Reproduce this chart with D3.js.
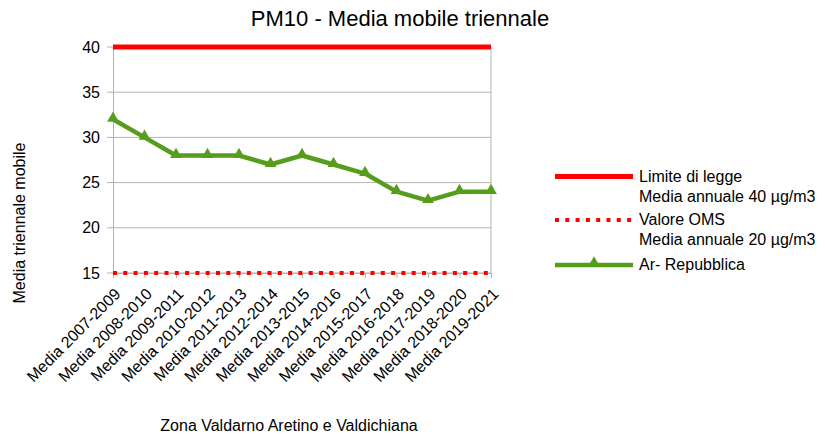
<!DOCTYPE html>
<html>
<head>
<meta charset="utf-8">
<script src="https://cdn.jsdelivr.net/npm/d3@7"></script>
<style>
  body { margin: 0; background: #fff; }
  text { font-family: "Liberation Sans", Arial, sans-serif; fill: #000; }
</style>
</head>
<body>
<div id="chart"></div>
<script>
const CATEGORIES = ['Media 2007-2009', 'Media 2008-2010', 'Media 2009-2011', 'Media 2010-2012',
  'Media 2011-2013', 'Media 2012-2014', 'Media 2013-2015', 'Media 2014-2016', 'Media 2015-2017',
  'Media 2016-2018', 'Media 2017-2019', 'Media 2018-2020', 'Media 2019-2021'];
const REPUBBLICA = [32, 30, 28, 28, 28, 27, 28, 27, 26, 24, 23, 24, 24];
const LIMITE = 40;
const OMS = 15;
const Y_TICKS = [15, 20, 25, 30, 35, 40];

// set the dimensions and margins of the graph
var margin = {top: 47, right: 334, bottom: 163, left: 113},
    width  = 825 - margin.left - margin.right,
    height = 436 - margin.top - margin.bottom;

var svgRoot = d3.select('#chart')
  .append('svg')
  .attr('width', 825)
  .attr('height', 436);

var svg = svgRoot.append('g')
  .attr('transform', 'translate(' + margin.left + ',' + margin.top + ')');

var x = d3.scalePoint().domain(CATEGORIES).range([0, width]).padding(0);
var y = d3.scaleLinear().domain([15, 40]).range([height, 0]);

// gridlines
svg.append('g')
  .selectAll('line')
  .data(Y_TICKS)
  .enter()
  .append('line')
  .attr('x1', -6).attr('x2', width)
  .attr('y1', d => y(d)).attr('y2', d => y(d))
  .attr('stroke', '#b3b3b3').attr('stroke-width', 1);

// y axis
var yAxis = svg.append('g')
  .call(d3.axisLeft(y).tickValues(Y_TICKS).tickSize(0).tickPadding(13));
yAxis.select('.domain').attr('stroke', '#b3b3b3');
yAxis.selectAll('text').style('font-size', '16px');

// x axis
var xAxis = svg.append('g')
  .attr('transform', 'translate(0,' + height + ')')
  .call(d3.axisBottom(x).tickSize(5).tickSizeOuter(0));
xAxis.select('.domain').attr('stroke', '#b3b3b3');
xAxis.selectAll('line').attr('stroke', '#b3b3b3');
xAxis.selectAll('text')
  .style('font-size', '16px')
  .attr('text-anchor', 'end')
  .attr('dy', null)
  .attr('y', 0)
  .attr('transform', 'translate(8,22) rotate(-45)');

// right border of plot
svg.append('line')
  .attr('x1', width).attr('x2', width).attr('y1', 0).attr('y2', height)
  .attr('stroke', '#b3b3b3');

// threshold lines
svg.append('line')
  .attr('x1', 0).attr('x2', width)
  .attr('y1', y(LIMITE)).attr('y2', y(LIMITE))
  .attr('stroke', '#ff0000').attr('stroke-width', 5);

svg.append('line')
  .attr('x1', 0).attr('x2', width)
  .attr('y1', y(OMS)).attr('y2', y(OMS))
  .attr('stroke', '#ff0000').attr('stroke-width', 4)
  .attr('stroke-dasharray', '4,6.3');

// green series
var line = d3.line()
  .x((d, i) => x(CATEGORIES[i]))
  .y(d => y(d));

svg.append('path')
  .datum(REPUBBLICA)
  .attr('d', line)
  .attr('fill', 'none')
  .attr('stroke', '#579d1c')
  .attr('stroke-width', 4.5)
  .attr('stroke-linejoin', 'round');

var tri = d3.symbol().type(d3.symbolTriangle).size(60);
svg.selectAll('.marker')
  .data(REPUBBLICA)
  .enter()
  .append('path')
  .attr('class', 'marker')
  .attr('d', tri)
  .attr('transform', (d, i) => 'translate(' + x(CATEGORIES[i]) + ',' + (y(d) - 1) + ')')
  .attr('fill', '#579d1c');

// title
svgRoot.append('text')
  .attr('x', 400).attr('y', 26)
  .attr('text-anchor', 'middle')
  .style('font-size', '22px')
  .text('PM10 - Media mobile triennale');

// axis titles
svgRoot.append('text')
  .attr('transform', 'translate(25,223) rotate(-90)')
  .attr('text-anchor', 'middle')
  .style('font-size', '16px')
  .text('Media triennale mobile');

svgRoot.append('text')
  .attr('x', 289).attr('y', 431)
  .attr('text-anchor', 'middle')
  .style('font-size', '16px')
  .text('Zona Valdarno Aretino e Valdichiana');

// legend
var legend = svgRoot.append('g').attr('transform', 'translate(555,0)');

legend.append('line')
  .attr('x1', 0).attr('x2', 78).attr('y1', 176.5).attr('y2', 176.5)
  .attr('stroke', '#ff0000').attr('stroke-width', 5);
legend.append('text').attr('x', 84).attr('y', 182).style('font-size', '16px').text('Limite di legge');
legend.append('text').attr('x', 84).attr('y', 202).style('font-size', '16px').text('Media annuale 40 µg/m3');

legend.append('line')
  .attr('x1', 0).attr('x2', 78).attr('y1', 220).attr('y2', 220)
  .attr('stroke', '#ff0000').attr('stroke-width', 4)
  .attr('stroke-dasharray', '4,6.3');
legend.append('text').attr('x', 84).attr('y', 225).style('font-size', '16px').text('Valore OMS');
legend.append('text').attr('x', 84).attr('y', 245).style('font-size', '16px').text('Media annuale 20 µg/m3');

legend.append('line')
  .attr('x1', 0).attr('x2', 78).attr('y1', 265).attr('y2', 265)
  .attr('stroke', '#579d1c').attr('stroke-width', 4.5);
legend.append('path')
  .attr('d', tri)
  .attr('transform', 'translate(39,263)')
  .attr('fill', '#579d1c');
legend.append('text').attr('x', 84).attr('y', 270).style('font-size', '16px').text('Ar- Repubblica');
</script>
</body>
</html>
